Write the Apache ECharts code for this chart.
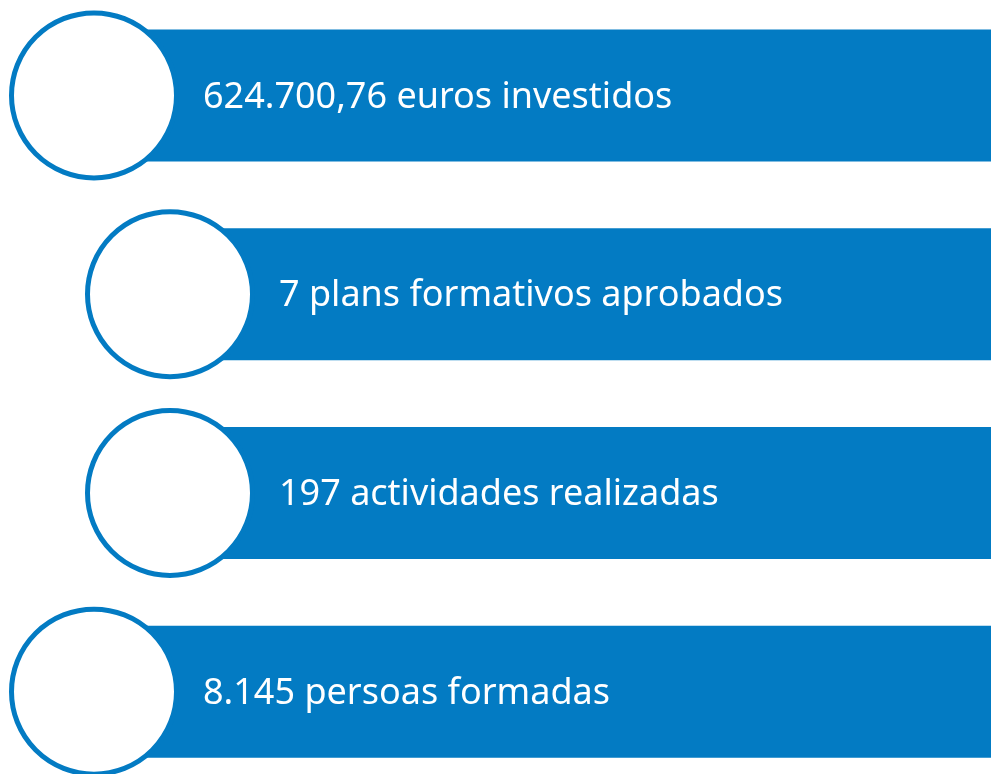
<!DOCTYPE html>
<html>
<head>
<meta charset="utf-8">
<script src="https://cdn.jsdelivr.net/npm/echarts@6/dist/echarts.min.js"></script>
<style>
  html, body { margin: 0; padding: 0; background: #fff; }
  #chart { width: 991px; height: 774px; }
</style>
</head>
<body>
<div id="chart"></div>
<script>
// datos
const amounts = ['624.700,76', '7', '197', '8.145']
const texts = ['euros investidos', 'plans formativos aprobados', 'actividades realizadas', 'persoas formadas']
const levels = [0, 1, 1, 0]   // sangría de cada fila

const blue = '#037bc3'
const categories = texts.map((t, i) => 'row' + i)
const circleX = levels.map(l => 94 + l * 76)

const chart = echarts.init(document.getElementById('chart'))
chart.setOption({
  animation: false,
  grid: { left: 0, right: 0, top: -4, height: 795, outerBoundsMode: 'none' },
  xAxis: { type: 'value', min: 0, max: 991, show: false },
  yAxis: { type: 'category', data: categories, inverse: true, show: false },
  series: [
    {
      type: 'bar',
      stack: 'row',
      data: circleX,
      itemStyle: { color: 'transparent' },
      barWidth: 132,
      silent: true
    },
    {
      type: 'bar',
      stack: 'row',
      data: circleX.map(x => 991 - x),
      barWidth: 132,
      itemStyle: { color: blue },
      label: {
        show: true,
        position: 'insideLeft',
        distance: 109,
        offset: [0, 2],
        color: '#fff',
        fontFamily: 'Noto Sans',
        fontSize: 36,
        formatter: p => amounts[p.dataIndex] + ' ' + texts[p.dataIndex]
      }
    },
    {
      type: 'scatter',
      data: circleX.map((x, i) => [x, categories[i]]),
      symbol: 'circle',
      symbolSize: 165,
      z: 5,
      itemStyle: { color: '#fff', borderColor: blue, borderWidth: 5, opacity: 1 }
    }
  ]
})
</script>
</body>
</html>
